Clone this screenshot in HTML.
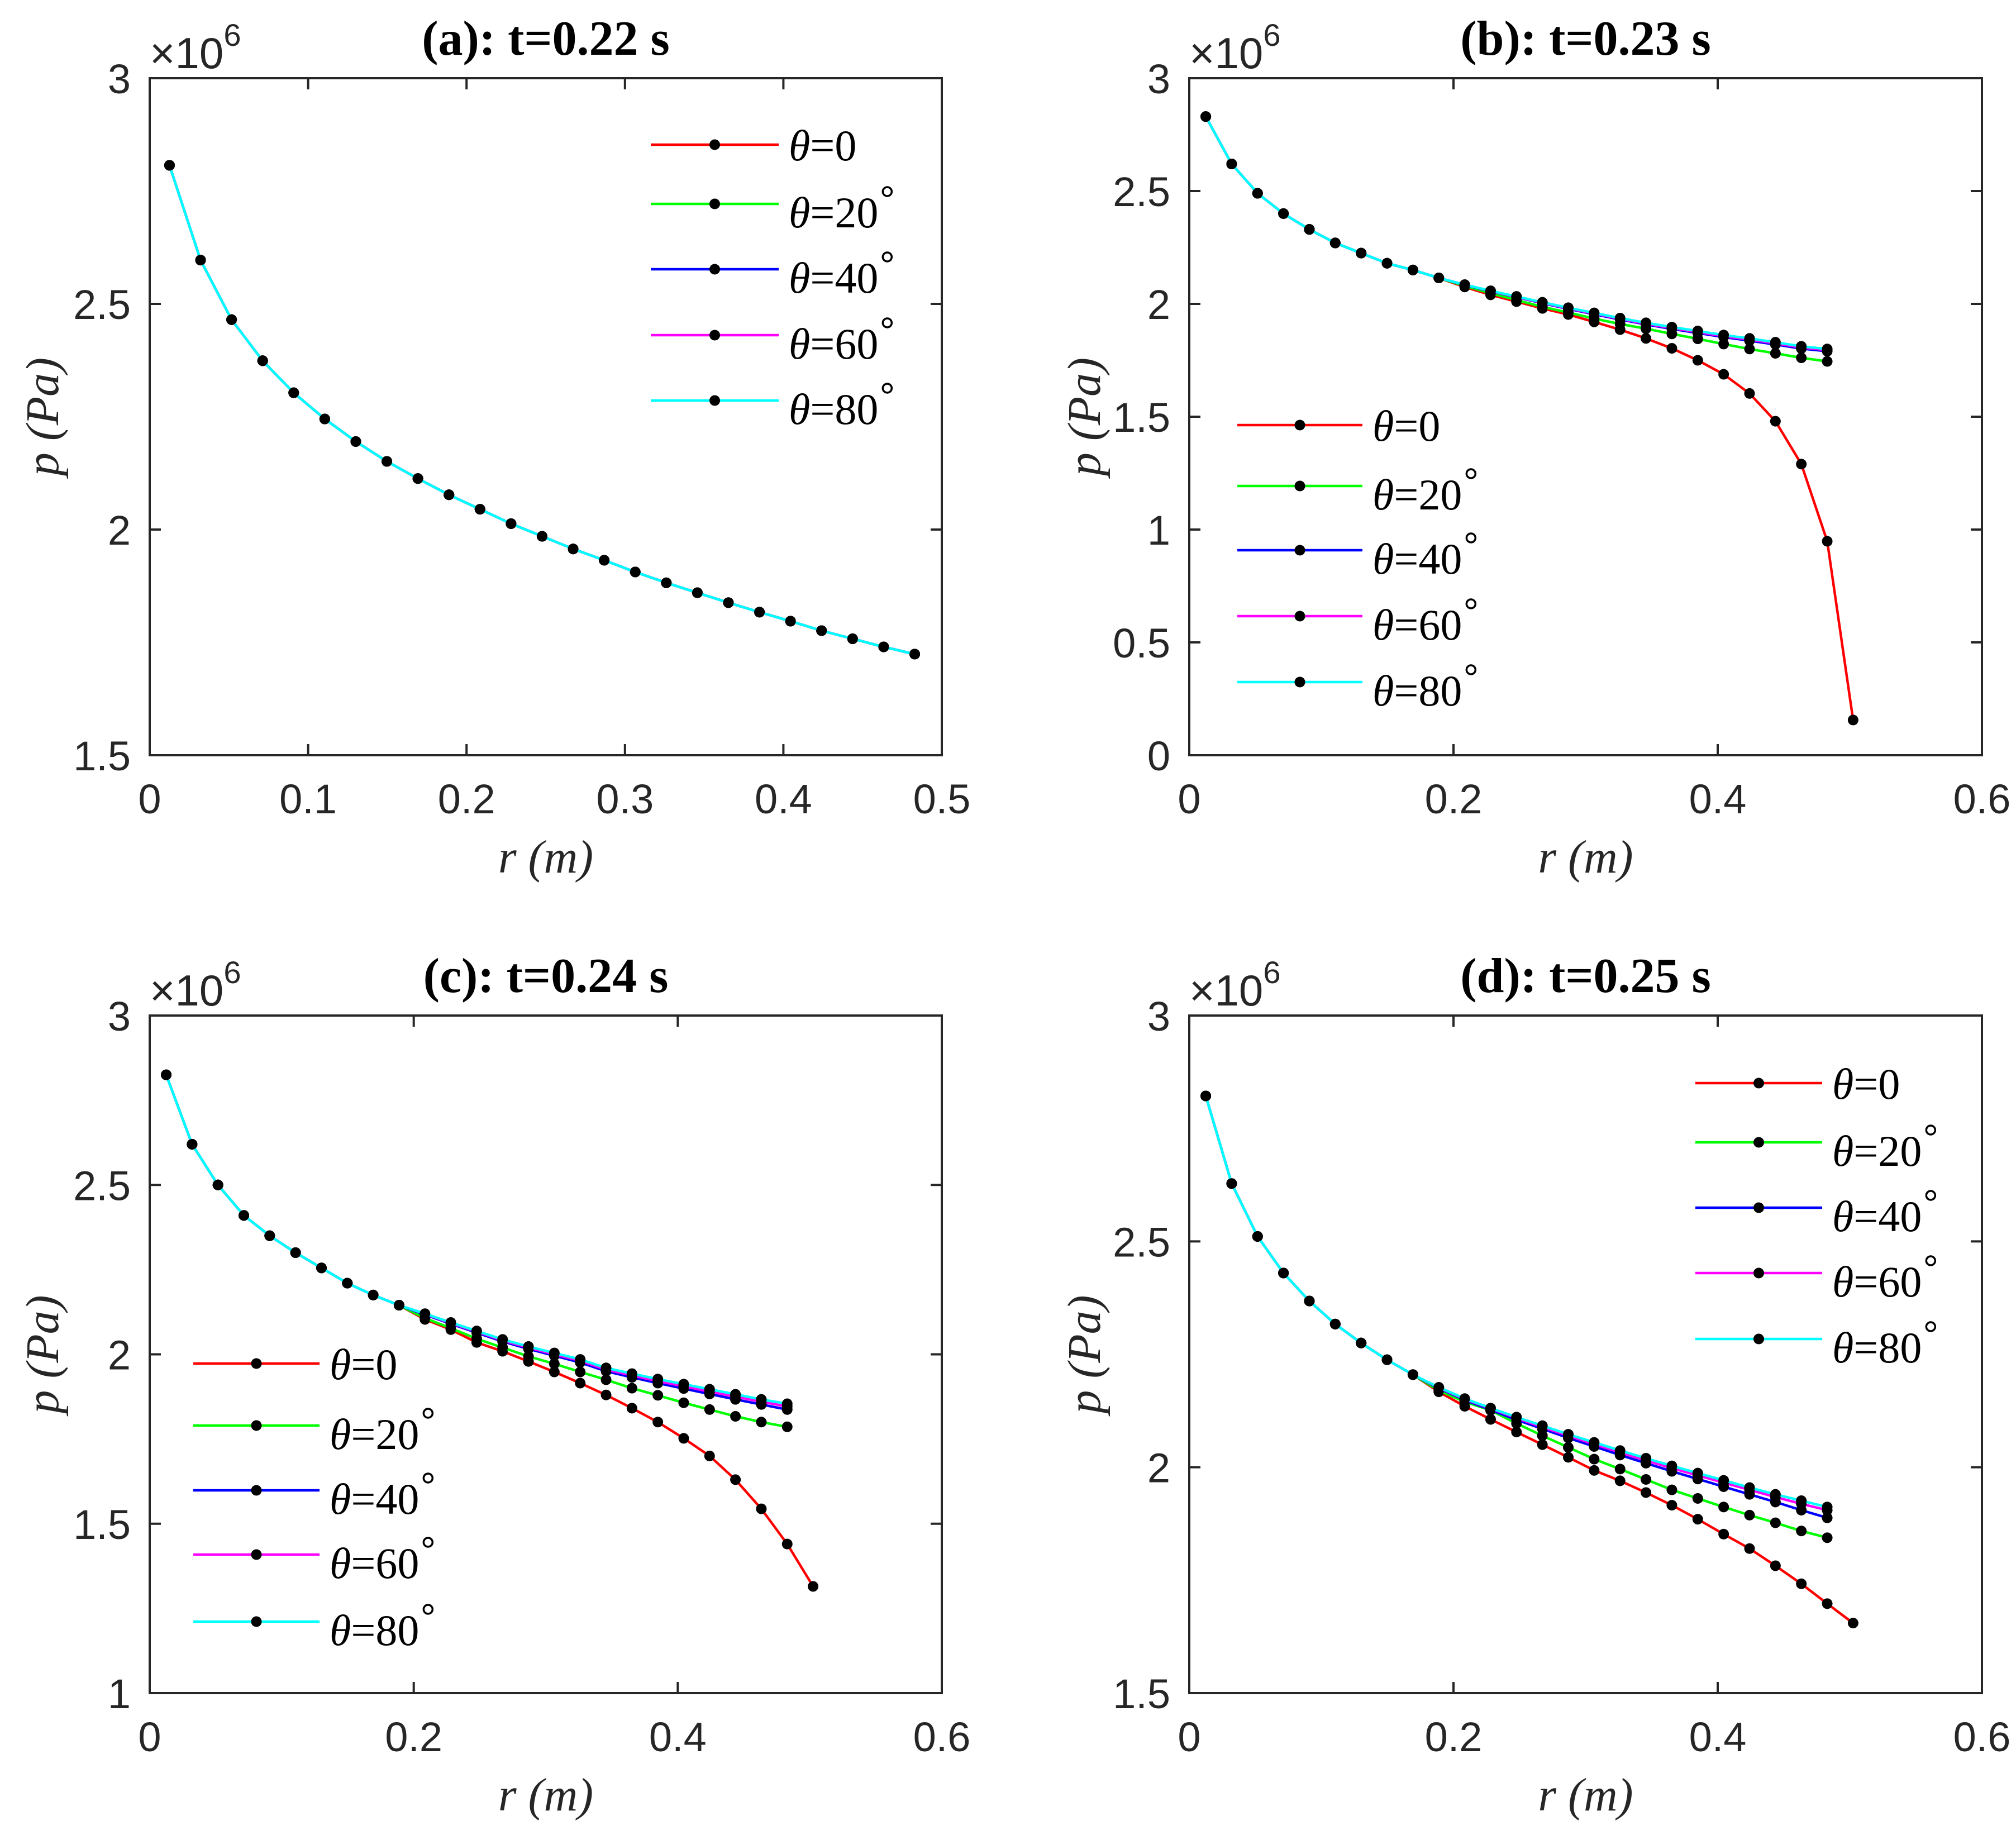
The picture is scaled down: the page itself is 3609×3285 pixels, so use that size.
<!DOCTYPE html>
<html><head><meta charset="utf-8"><style>html,body{margin:0;padding:0;background:#fff}svg{display:block}</style></head>
<body>
<svg id="fig" xmlns="http://www.w3.org/2000/svg" width="3609" height="3285" viewBox="0 0 3609 3285">
<rect width="3609" height="3285" fill="#fff"/>
</svg>
<script>
const rVals = [0.0125,0.0321,0.0517,0.0713,0.0909,0.1105,0.1301,0.1497,0.1693,0.1889,0.2085,0.2281,0.2477,0.2673,0.2869,0.3065,0.3261,0.3457,0.3653,0.3849,0.4045,0.4241,0.4437,0.4633,0.4829,0.5025];
const seriesNames = ['θ=0','θ=20','θ=40','θ=60','θ=80'];
const seriesColors = ['#ff0000','#00ff00','#0000ff','#ff00ff','#00ffff'];

const aRed = [2.807,2.597,2.465,2.374,2.303,2.245,2.195,2.151,2.113,2.077,2.045,2.013,1.985,1.957,1.932,1.906,1.882,1.860,1.838,1.817,1.797,1.776,1.758,1.740,1.724];
const aGreen = [2.807,2.597,2.465,2.374,2.303,2.245,2.195,2.151,2.113,2.077,2.045,2.013,1.985,1.957,1.932,1.906,1.882,1.860,1.838,1.817,1.797,1.776,1.758,1.740,1.724];
const aBlue = [2.807,2.597,2.465,2.374,2.303,2.245,2.195,2.151,2.113,2.077,2.045,2.013,1.985,1.957,1.932,1.906,1.882,1.860,1.838,1.817,1.797,1.776,1.758,1.740,1.724];
const aMagenta = [2.807,2.597,2.465,2.374,2.303,2.245,2.195,2.151,2.113,2.077,2.045,2.013,1.985,1.957,1.932,1.906,1.882,1.860,1.838,1.817,1.797,1.776,1.758,1.740,1.724];
const aCyan = [2.807,2.597,2.465,2.374,2.303,2.245,2.195,2.151,2.113,2.077,2.045,2.013,1.985,1.957,1.932,1.906,1.882,1.860,1.838,1.817,1.797,1.776,1.758,1.740,1.724];

const bRed = [2.83,2.62,2.49,2.40,2.33,2.27,2.225,2.18,2.15,2.115,2.075,2.04,2.01,1.98,1.953,1.92,1.886,1.847,1.803,1.75,1.688,1.603,1.48,1.29,0.948,0.156];
const bGreen = [2.83,2.62,2.49,2.40,2.33,2.27,2.225,2.18,2.15,2.115,2.08,2.047,2.017,1.987,1.962,1.935,1.911,1.89,1.867,1.845,1.822,1.80,1.781,1.761,1.745];
const bBlue = [2.83,2.62,2.49,2.40,2.33,2.27,2.225,2.18,2.15,2.115,2.084,2.056,2.03,2.003,1.978,1.954,1.931,1.909,1.889,1.871,1.853,1.837,1.82,1.802,1.79];
const bMagenta = [2.83,2.62,2.49,2.40,2.33,2.27,2.225,2.18,2.15,2.115,2.085,2.057,2.031,2.005,1.98,1.957,1.934,1.912,1.893,1.875,1.857,1.842,1.825,1.807,1.795];
const bCyan = [2.83,2.62,2.49,2.40,2.33,2.27,2.225,2.18,2.15,2.115,2.085,2.058,2.033,2.007,1.983,1.96,1.937,1.916,1.897,1.88,1.862,1.847,1.83,1.812,1.80];

const cRed = [2.825,2.62,2.50,2.41,2.35,2.30,2.255,2.21,2.175,2.145,2.103,2.073,2.035,2.009,1.979,1.948,1.915,1.88,1.841,1.80,1.752,1.70,1.63,1.544,1.44,1.315];
const cGreen = [2.825,2.62,2.50,2.41,2.35,2.30,2.255,2.21,2.175,2.145,2.107,2.077,2.046,2.02,1.994,1.972,1.948,1.925,1.90,1.879,1.857,1.837,1.817,1.80,1.786];
const cBlue = [2.825,2.62,2.50,2.41,2.35,2.30,2.255,2.21,2.175,2.145,2.117,2.09,2.064,2.038,2.016,1.996,1.976,1.95,1.932,1.915,1.899,1.883,1.867,1.852,1.837];
const cMagenta = [2.825,2.62,2.50,2.41,2.35,2.30,2.255,2.21,2.175,2.145,2.119,2.092,2.067,2.041,2.02,2.0,1.981,1.955,1.938,1.921,1.906,1.89,1.875,1.86,1.846];
const cCyan = [2.825,2.62,2.50,2.41,2.35,2.30,2.255,2.21,2.175,2.145,2.12,2.094,2.069,2.044,2.023,2.004,1.985,1.96,1.943,1.927,1.912,1.897,1.882,1.867,1.854];

const dRed = [2.822,2.628,2.511,2.430,2.368,2.317,2.275,2.238,2.205,2.167,2.135,2.106,2.078,2.05,2.022,1.993,1.97,1.944,1.916,1.885,1.852,1.82,1.782,1.742,1.698,1.655];
const dGreen = [2.822,2.628,2.511,2.430,2.368,2.317,2.275,2.238,2.205,2.17,2.145,2.126,2.097,2.07,2.044,2.018,1.996,1.973,1.95,1.931,1.912,1.894,1.877,1.859,1.844];
const dBlue = [2.822,2.628,2.511,2.430,2.368,2.317,2.275,2.238,2.205,2.175,2.149,2.127,2.105,2.085,2.065,2.046,2.027,2.009,1.991,1.974,1.957,1.94,1.923,1.905,1.888];
const dMagenta = [2.822,2.628,2.511,2.430,2.368,2.317,2.275,2.238,2.205,2.176,2.151,2.13,2.109,2.089,2.07,2.051,2.033,2.015,1.998,1.982,1.966,1.95,1.934,1.919,1.905];
const dCyan = [2.822,2.628,2.511,2.430,2.368,2.317,2.275,2.238,2.205,2.177,2.152,2.131,2.111,2.092,2.073,2.055,2.037,2.02,2.003,1.987,1.971,1.955,1.94,1.926,1.912];

const aXTicks = [0,0.1,0.2,0.3,0.4,0.5];
const bXTicks = [0,0.2,0.4,0.6];
const aYTicks = [1.5,2,2.5,3];
const bYTicks = [0,0.5,1,1.5,2,2.5,3];
const cYTicks = [1,1.5,2,2.5,3];
const dYTicks = [1.5,2,2.5,3];

const NS='http://www.w3.org/2000/svg';
const svg=document.getElementById('fig');
function mk(tag,attrs,parent){const e=document.createElementNS(NS,tag);for(const k in attrs)e.setAttribute(k,attrs[k]);(parent||svg).appendChild(e);return e;}
const SANS='"Liberation Sans", Arial, sans-serif';
const SERIF='"Liberation Serif", "Times New Roman", serif';

const panels=[
 {id:'a',title:'(a): t=0.22 s',L:268,R:1686,T:140,B:1352,xmax:0.5,ymin:1.5,ymax:3,xt:aXTicks,yt:aYTicks,data:[aRed,aGreen,aBlue,aMagenta,aCyan],lg:{x1:1165,x2:1394,rows:[259,365,482,600,717]},ylab:80},
 {id:'b',title:'(b): t=0.23 s',L:2129,R:3548,T:140,B:1352,xmax:0.6,ymin:0,ymax:3,xt:bXTicks,yt:bYTicks,data:[bRed,bGreen,bBlue,bMagenta,bCyan],lg:{x1:2215,x2:2439,rows:[761,870,985,1103,1221]},ylab:1945},
 {id:'c',title:'(c): t=0.24 s',L:268,R:1686,T:1818,B:3031,xmax:0.6,ymin:1,ymax:3,xt:bXTicks,yt:cYTicks,data:[cRed,cGreen,cBlue,cMagenta,cCyan],lg:{x1:346,x2:572,rows:[2441,2552,2668,2783,2903]},ylab:80},
 {id:'d',title:'(d): t=0.25 s',L:2129,R:3548,T:1818,B:3031,xmax:0.6,ymin:1.5,ymax:3,xt:bXTicks,yt:dYTicks,data:[dRed,dGreen,dBlue,dMagenta,dCyan],lg:{x1:3035,x2:3262,rows:[1939,2045,2162,2279,2397]},ylab:1945}
];

panels.forEach(p=>{
 const g=mk('g',{});
 
 
 const sx=v=>p.L+v/p.xmax*(p.R-p.L);
 const sy=v=>p.B-(v-p.ymin)/(p.ymax-p.ymin)*(p.B-p.T);
 const box=mk('rect',{x:p.L,y:p.T,width:p.R-p.L,height:p.B-p.T,fill:'none',stroke:'#262626','stroke-width':4},g);
 
 
 p.xt.forEach(t=>{
  const x=sx(t);
  mk('line',{x1:x,x2:x,y1:p.B,y2:p.B-20,stroke:'#262626','stroke-width':4},g);
  mk('line',{x1:x,x2:x,y1:p.T,y2:p.T+20,stroke:'#262626','stroke-width':4},g);
  const tx=mk('text',{x:x,y:p.B+104,'text-anchor':'middle','font-family':SANS,'font-size':74,fill:'#262626'},g);
  tx.textContent=String(t);
  
  
 });
 p.yt.forEach(t=>{
  const y=sy(t);
  mk('line',{x1:p.L,x2:p.L+20,y1:y,y2:y,stroke:'#262626','stroke-width':4},g);
  mk('line',{x1:p.R,x2:p.R-20,y1:y,y2:y,stroke:'#262626','stroke-width':4},g);
  const tx=mk('text',{x:p.L-34,y:y+27,'text-anchor':'end','font-family':SANS,'font-size':74,fill:'#262626'},g);
  tx.textContent=String(t);
  
  
 });
 const ex=mk('text',{x:p.L,y:p.T-18,'font-family':SANS,'font-size':78,fill:'#262626'},g);
 
 
 ex.innerHTML='×10<tspan font-size="56" dy="-40">6</tspan>';
 const ti=mk('text',{x:(p.L+p.R)/2,y:p.T-42,'text-anchor':'middle','font-family':SERIF,'font-weight':'bold','font-size':88,fill:'#000'},g);
 ti.textContent=p.title;
 
 
 const xl=mk('text',{x:(p.L+p.R)/2,y:p.B+210,'text-anchor':'middle','font-family':SERIF,'font-style':'italic','font-size':84,fill:'#262626'},g);
 xl.textContent='r (m)';
 
 
 const yl=mk('text',{transform:`translate(${p.ylab+24},${(p.T+p.B)/2}) rotate(-90)`,'text-anchor':'middle','font-family':SERIF,'font-style':'italic','font-size':84,fill:'#262626'},g);
 yl.textContent='p (Pa)';
 
 
 p.data.forEach((arr,si)=>{
  const sg=mk('g',{},g);
  
  
  const pts=arr.map((v,i)=>sx(rVals[i]).toFixed(1)+','+sy(v).toFixed(1)).join(' ');
  const pl=mk('polyline',{points:pts,fill:'none',stroke:seriesColors[si],'stroke-width':4.5,'stroke-linejoin':'round'},sg);
  
  
  arr.forEach((v,i)=>{
   const c=mk('circle',{cx:sx(rVals[i]),cy:sy(v),r:9.5,fill:'#000'},sg);
   
   
  });
 });
 const lg=mk('g',{},g);
 
 
 p.lg.rows.forEach((y,si)=>{
  const e=mk('g',{},lg);
  
  
  mk('line',{x1:p.lg.x1,x2:p.lg.x2,y1:y,y2:y,stroke:seriesColors[si],'stroke-width':4.5},e);
  mk('circle',{cx:(p.lg.x1+p.lg.x2)/2,cy:y,r:9.5,fill:'#000'},e);
  const num=seriesNames[si].replace('θ=','');
  const base = si===0 ? y+28 : y+42;
  const t=mk('text',{x:p.lg.x2+18,y:base,'font-family':SERIF,'font-size':78,fill:'#000'},e);
  t.innerHTML='<tspan font-style="italic">θ</tspan>='+num;
  if(si>0){
   const len=t.getComputedTextLength();
   const dc=mk('circle',{cx:p.lg.x2+18+len+16,cy:base-64,r:8,fill:'none',stroke:'#000','stroke-width':3.5},e);
   
   
  }
 });
});
</script>
</body></html>
